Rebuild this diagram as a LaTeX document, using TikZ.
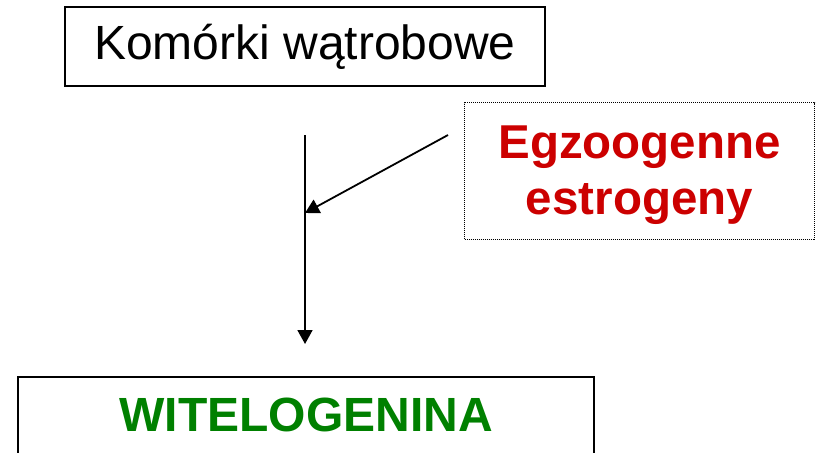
\documentclass[tikz,border=0pt]{standalone}
\usepackage{fontspec}
\setmainfont{Liberation Sans}
\usetikzlibrary{arrows.meta}
\definecolor{estrored}{RGB}{204,0,0}
\definecolor{vitgreen}{RGB}{0,128,0}

\begin{document}
\begin{tikzpicture}[x=1pt,y=-1pt,>={Triangle[length=14pt,width=15pt]},line width=1.8pt]
 \useasboundingbox (0,0) rectangle (821,452);

 % Boxes
 \node[draw,line width=2pt,minimum width=480pt,minimum height=79pt,inner sep=0pt] (cells) at (305,46.5)
   {\fontsize{48}{52}\selectfont Komórki wątrobowe};
 \node[draw,densely dotted,line width=1pt,minimum width=350pt,minimum height=137pt,inner sep=0pt,
   align=center,text=estrored,font=\fontsize{47.5}{48}\selectfont\bfseries] (estro) at (639.5,171)
   {\raisebox{-6pt}[\height][\depth]{\begin{tabular}{@{}c@{}}Egzoogenne\\[8pt]estrogeny\end{tabular}}};
 \node[draw,line width=2pt,minimum width=576pt,minimum height=120pt,inner sep=0pt,anchor=north] (vit) at (305.5,375.5) {};
 \node[text=vitgreen] (vitlabel) at (306,414.5)
   {\fontsize{48}{52}\selectfont\bfseries WITELOGENINA};

 % Arrows
 \coordinate (top) at (305,135);
 \coordinate (join) at (305,213);
 \coordinate (tip) at (305,344);
 \coordinate (from) at (448,135);
 \draw[->] (top) -- (tip);
 \draw[->] (from) -- (join);
\end{tikzpicture}
\end{document}
